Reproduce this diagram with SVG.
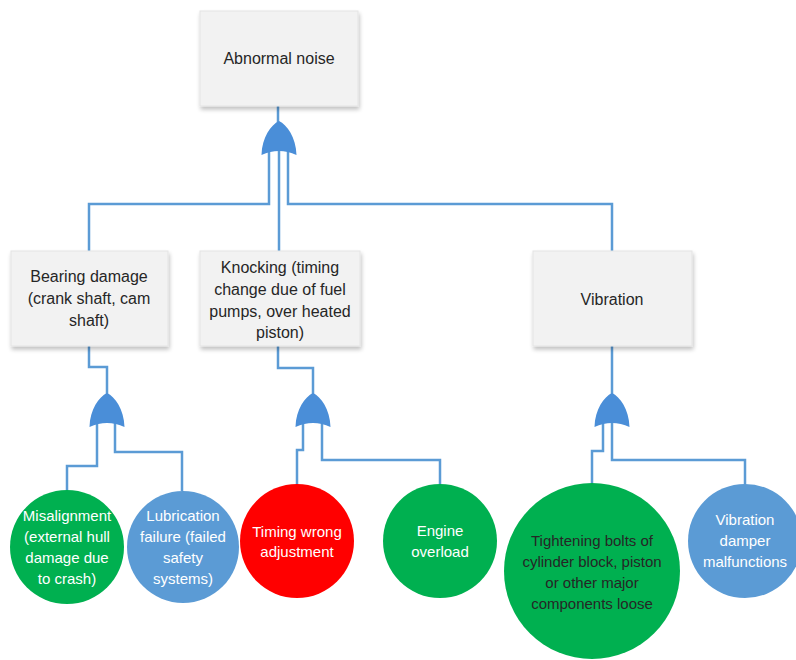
<svg xmlns="http://www.w3.org/2000/svg" width="796" height="660" viewBox="0 0 796 660">
  <defs>
    <filter id="shadow" x="-10%" y="-10%" width="125%" height="125%">
      <feGaussianBlur in="SourceAlpha" stdDeviation="2"/>
      <feOffset dx="1" dy="3" result="b"/>
      <feComponentTransfer><feFuncA type="linear" slope="0.25"/></feComponentTransfer>
      <feMerge><feMergeNode/><feMergeNode in="SourceGraphic"/></feMerge>
    </filter>
    <!-- OR gate, apex at (0,0), base at y=34 -->
    <path id="orgate" d="M0,0 C-8,4 -17,16 -17.5,34 Q0,26 17.5,34 C17,16 8,4 0,0 Z"/>
  </defs>
  <style>
    .box { fill: #f2f2f2; stroke: #e4e4e4; stroke-width: 1; filter: url(#shadow); }
    .wire { fill: none; stroke: #5b9bd5; stroke-width: 2.5; stroke-linejoin: miter; }
    .gate { fill: #4a8ed8; }
    .t { font-family: "Liberation Sans", Arial, sans-serif; font-size: 15px; text-anchor: middle; }
    .bt { font-size: 16px; }
    .dark { fill: #262626; }
    .light { fill: #ffffff; }
    .green { fill: #00b050; }
    .red { fill: #ff0000; }
    .blue { fill: #5b9bd5; }
  </style>

  <rect width="796" height="660" fill="#ffffff"/>

  <g id="connectors">
    <!-- top event -->
    <path class="wire" d="M278,106 V124"/>
    <path class="wire" d="M269,150 V204 H89 V251"/>
    <path class="wire" d="M279,150 V251"/>
    <path class="wire" d="M288,150 V204 H612 V251"/>
    <!-- bearing damage branch -->
    <path class="wire" d="M89,346 V367 H107 V395"/>
    <path class="wire" d="M97,422 V466 H67 V491"/>
    <path class="wire" d="M115,422 V452 H182 V491"/>
    <!-- knocking branch -->
    <path class="wire" d="M278,346 V368 H313 V395"/>
    <path class="wire" d="M303,422 V450 H297 V485"/>
    <path class="wire" d="M322,422 V460 H440 V485"/>
    <!-- vibration branch -->
    <path class="wire" d="M612,346 V395"/>
    <path class="wire" d="M603,422 V451 H592 V483"/>
    <path class="wire" d="M612,422 V460 H745 V485"/>
  </g>

  <g id="gates">
    <use href="#orgate" class="gate" x="279" y="121"/>
    <use href="#orgate" class="gate" x="107" y="393"/>
    <use href="#orgate" class="gate" x="313" y="393"/>
    <use href="#orgate" class="gate" x="612" y="393"/>
  </g>

  <g id="abnormal-noise">
    <rect class="box" x="200" y="11" width="158" height="95"/>
    <text class="t bt dark" x="279" y="64">Abnormal noise</text>
  </g>

  <g id="bearing-damage">
    <rect class="box" x="11" y="251" width="157" height="95"/>
    <text class="t bt dark" x="89" y="282">Bearing damage</text>
    <text class="t bt dark" x="89" y="304">(crank shaft, cam</text>
    <text class="t bt dark" x="89" y="326">shaft)</text>
  </g>

  <g id="knocking">
    <rect class="box" x="200" y="251" width="160" height="95"/>
    <text class="t bt dark" x="280" y="273">Knocking (timing</text>
    <text class="t bt dark" x="280" y="295">change due of fuel</text>
    <text class="t bt dark" x="280" y="317">pumps, over heated</text>
    <text class="t bt dark" x="280" y="338">piston)</text>
  </g>

  <g id="vibration">
    <rect class="box" x="533" y="251" width="159" height="95"/>
    <text class="t bt dark" x="612" y="305">Vibration</text>
  </g>

  <g id="misalignment">
    <circle class="green" cx="67" cy="547" r="57"/>
    <text class="t light" x="67" y="521">Misalignment</text>
    <text class="t light" x="67" y="542">(external hull</text>
    <text class="t light" x="67" y="563">damage due</text>
    <text class="t light" x="67" y="584">to crash)</text>
  </g>

  <g id="lubrication-failure">
    <circle class="blue" cx="183" cy="547" r="56"/>
    <text class="t light" x="183" y="521">Lubrication</text>
    <text class="t light" x="183" y="542">failure (failed</text>
    <text class="t light" x="183" y="563">safety</text>
    <text class="t light" x="183" y="584">systems)</text>
  </g>

  <g id="timing-wrong">
    <circle class="red" cx="297" cy="541" r="57"/>
    <text class="t light" x="297" y="537">Timing wrong</text>
    <text class="t light" x="297" y="557">adjustment</text>
  </g>

  <g id="engine-overload">
    <circle class="green" cx="440" cy="541" r="57"/>
    <text class="t light" x="440" y="536">Engine</text>
    <text class="t light" x="440" y="557">overload</text>
  </g>

  <g id="tightening-bolts">
    <circle class="green" cx="592" cy="571" r="88"/>
    <text class="t dark" x="592" y="546">Tightening bolts of</text>
    <text class="t dark" x="592" y="567">cylinder block, piston</text>
    <text class="t dark" x="592" y="588">or other major</text>
    <text class="t dark" x="592" y="609">components  loose</text>
  </g>

  <g id="vibration-damper">
    <circle class="blue" cx="745" cy="541" r="57"/>
    <text class="t light" x="745" y="525">Vibration</text>
    <text class="t light" x="745" y="546">damper</text>
    <text class="t light" x="745" y="567">malfunctions</text>
  </g>
</svg>
